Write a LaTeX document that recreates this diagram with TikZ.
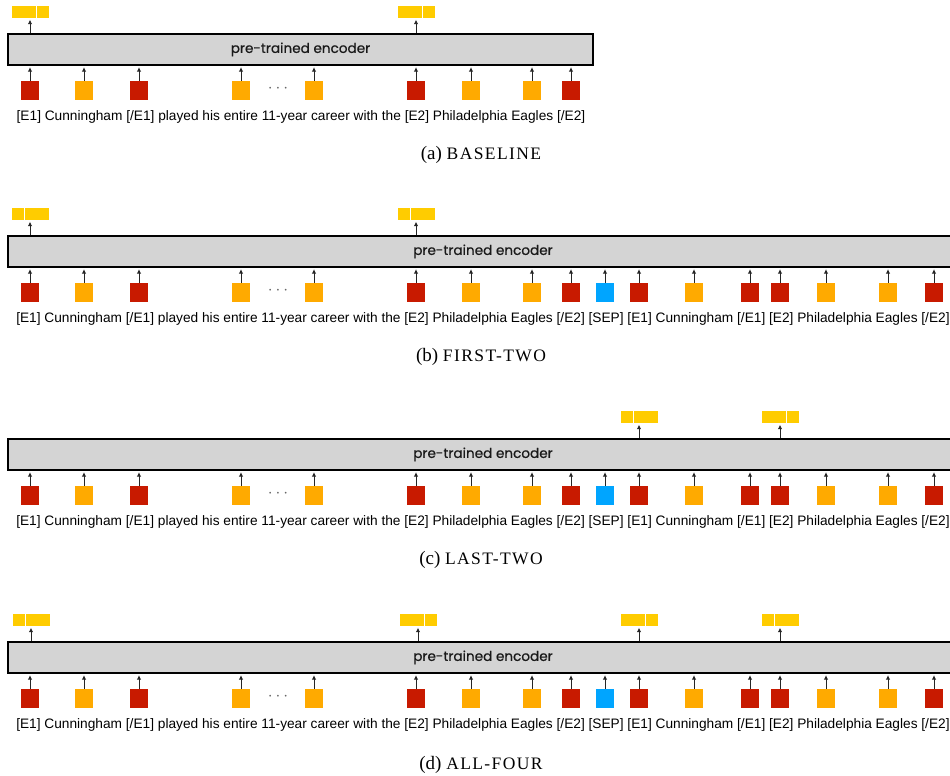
\documentclass[tikz,border=0pt]{standalone}
\usepackage{fontspec}
\setmainfont{Liberation Serif}
\newfontfamily\tokfont{Liberation Sans}
\newfontfamily\encfont[FakeBold=0.6]{Poppins}
\usetikzlibrary{arrows.meta}

\definecolor{entred}{HTML}{C81A00}
\definecolor{wordorange}{HTML}{FFAA00}
\definecolor{sepblue}{HTML}{00A5FF}
\definecolor{outyellow}{HTML}{FFCC00}
\definecolor{encgray}{HTML}{D4D4D4}

\tikzset{
  encoder/.style={draw, line width=1.3pt, fill=encgray, inner sep=0pt,
    minimum height=31pt, text=black!90,
    font=\encfont\fontsize{13.6}{15}\selectfont},
  tokbox/.style={inner sep=0pt, minimum width=18pt, minimum height=19pt},
  outblk/.style={inner sep=0pt, fill=outyellow, minimum width=37pt,
    minimum height=12pt},
  divider/.style={white, line width=1pt},
  up/.style={-{Latex[length=4.5pt, width=4.5pt]}, line width=0.9pt, black!85,
    shorten >=1.5pt},
  sentence/.style={inner sep=0pt, font=\tokfont\fontsize{13.7}{15}\selectfont},
  ellip/.style={inner sep=0pt, text=black!60, font=\fontsize{16}{18}\selectfont},
  caption/.style={inner sep=0pt, font=\fontsize{19}{22}\selectfont}
}
\newcommand\capsc[1]{{\fontsize{17.5}{19}\selectfont\addfontfeatures{LetterSpace=8}#1}}

\begin{document}
\begin{tikzpicture}[x=1pt, y=-1pt]
  \useasboundingbox (0,0) rectangle (950,776);
  % token positions / colours, shared by all four panels
  \def\toksA{30/entred,84/wordorange,139/entred,241/wordorange,314/wordorange,
    416/entred,471/wordorange,532/wordorange,571/entred}
  \def\toksB{30/entred,84/wordorange,139/entred,241/wordorange,314/wordorange,
    416/entred,471/wordorange,532/wordorange,571/entred,605/sepblue,
    639/entred,694/wordorange,750/entred,780/entred,826/wordorange,
    888/wordorange,934/entred}
  \def\sentA{[E1] Cunningham [/E1] played his entire 11-year career with
    the [E2] Philadelphia Eagles [/E2]}
  \def\sentB{\sentA{} [SEP] [E1] Cunningham [/E1] [E2] Philadelphia Eagles [/E2]}

  % (a) baseline
  \node[encoder, minimum width=585pt] (a-enc) at (300.5,49.5) {pre-trained encoder};
  \foreach \x/\c [count=\i] in \toksA {
    \node[tokbox, fill=\c] (a-t\i) at (\x,90.5) {};
    \draw[up] (a-t\i.north) -- (a-t\i.north |- a-enc.south);
  }
  \node[ellip] (a-dots) at (278,89) {$\cdots$};
  \foreach \x/\d [count=\i] in {30/6,416/6} {
    \node[outblk] (a-o\i) at (\x,12) {};
    \draw[divider] ([xshift=\d pt]a-o\i.north) -- ([xshift=\d pt]a-o\i.south);
    \draw[up] (a-o\i.south |- a-enc.north) -- (a-o\i.south);
  }
  \node[sentence] (a-txt) at (301,117) {\sentA};
  \node[caption] (a-cap) at (481,155) {(a) \capsc{BASELINE}};

  % (b) first-two
  \begin{scope}[shift={(0,202)}]
  \node[encoder, minimum width=950pt] (b-enc) at (483,49.5) {pre-trained encoder};
  \foreach \x/\c [count=\i] in \toksB {
    \node[tokbox, fill=\c] (b-t\i) at (\x,90.5) {};
    \draw[up] (b-t\i.north) -- (b-t\i.north |- b-enc.south);
  }
  \node[ellip] (b-dots) at (278,89) {$\cdots$};
  \foreach \x/\d [count=\i] in {30/-6,416/-6} {
    \node[outblk] (b-o\i) at (\x,12) {};
    \draw[divider] ([xshift=\d pt]b-o\i.north) -- ([xshift=\d pt]b-o\i.south);
    \draw[up] (b-o\i.south |- b-enc.north) -- (b-o\i.south);
  }
  \node[sentence] (b-txt) at (483,117) {\sentB};
  \node[caption] (b-cap) at (481,155) {(b) \capsc{FIRST-TWO}};
  \end{scope}

  % (c) last-two
  \begin{scope}[shift={(0,405)}]
  \node[encoder, minimum width=950pt] (c-enc) at (483,49.5) {pre-trained encoder};
  \foreach \x/\c [count=\i] in \toksB {
    \node[tokbox, fill=\c] (c-t\i) at (\x,90.5) {};
    \draw[up] (c-t\i.north) -- (c-t\i.north |- c-enc.south);
  }
  \node[ellip] (c-dots) at (278,89) {$\cdots$};
  \foreach \x/\d [count=\i] in {639/-6,780/6} {
    \node[outblk] (c-o\i) at (\x,12) {};
    \draw[divider] ([xshift=\d pt]c-o\i.north) -- ([xshift=\d pt]c-o\i.south);
    \draw[up] (c-o\i.south |- c-enc.north) -- (c-o\i.south);
  }
  \node[sentence] (c-txt) at (483,117) {\sentB};
  \node[caption] (c-cap) at (481,155) {(c) \capsc{LAST-TWO}};
  \end{scope}

  % (d) all-four
  \begin{scope}[shift={(0,608)}]
  \node[encoder, minimum width=950pt] (d-enc) at (483,49.5) {pre-trained encoder};
  \foreach \x/\c [count=\i] in \toksB {
    \node[tokbox, fill=\c] (d-t\i) at (\x,90.5) {};
    \draw[up] (d-t\i.north) -- (d-t\i.north |- d-enc.south);
  }
  \node[ellip] (d-dots) at (278,89) {$\cdots$};
  \foreach \x/\d [count=\i] in {31/-6,418/6,639/6,780/-6} {
    \node[outblk] (d-o\i) at (\x,12) {};
    \draw[divider] ([xshift=\d pt]d-o\i.north) -- ([xshift=\d pt]d-o\i.south);
    \draw[up] (d-o\i.south |- d-enc.north) -- (d-o\i.south);
  }
  \node[sentence] (d-txt) at (483,117) {\sentB};
  \node[caption] (d-cap) at (481,157) {(d) \capsc{ALL-FOUR}};
  \end{scope}
\end{tikzpicture}
\end{document}
